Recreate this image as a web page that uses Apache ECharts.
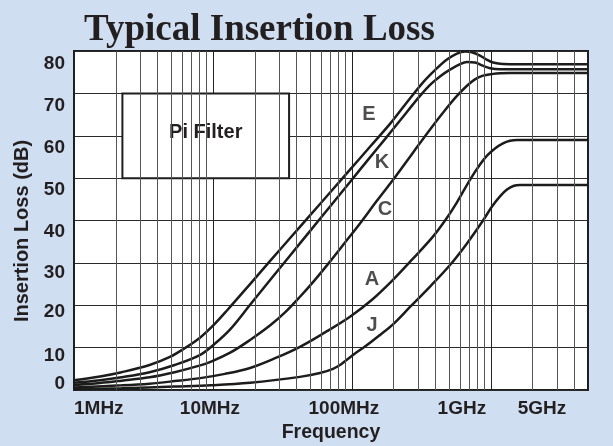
<!DOCTYPE html>
<html><head><meta charset="utf-8">
<script src="https://cdn.jsdelivr.net/npm/echarts@6/dist/echarts.min.js"></script>
<style>html,body{margin:0;padding:0;background:#cfdef0}#c{width:613px;height:446px}</style>
</head><body><div id="c"></div><script>
// ---- data (frequency in MHz, insertion loss in dB) ----
const freqE = [1.0,1.54,2.2,3.5,4.9,6.3,8.1,10.3,12.8,18.5,25.7,35.8,49.9,69.6,96.9,134.9,187.9,241,325,396,483,570,651,731,835,938,1036,1222,1620,5000];
const lossE = [2.3,3.2,4.2,5.9,7.8,9.9,12.4,15.6,19.0,25.0,30.4,35.8,41.2,46.6,52.0,57.4,62.8,67.3,72.6,75.5,78.0,79.4,79.9,79.7,78.9,77.9,77.3,76.95,76.9,76.9];
const freqK = [1.0,1.54,2.2,3.5,5.3,8.1,10.3,13.3,18.5,25.7,35.8,49.9,69.6,96.9,134.9,173,222,275,309,365,430,508,600,673,769,863,986,1163,1620,5000];
const lossK = [1.7,2.3,3.0,4.2,5.9,8.3,10.9,14.3,20.1,25.9,31.7,37.5,43.3,49.1,54.9,59.2,63.6,67.4,69.4,72.0,74.0,75.6,76.9,77.4,77.3,76.6,75.95,75.7,75.7,75.7];
const freqC = [1.0,1.54,2.2,3.5,5.3,8.1,9.7,13.3,18.5,25.7,33.0,42.3,54.2,69.5,89.2,114.3,154.1,204.2,275,365,483,570,673,768,878,1036,1163,1373,2000,5000];
const lossC = [1.2,1.65,2.2,3.0,4.2,5.8,6.7,8.8,11.8,15.2,18.3,22.0,26.0,30.3,34.8,39.3,45.0,50.2,56.0,61.5,66.6,69.4,71.8,73.3,74.2,74.6,74.75,74.8,74.8,74.8];
const freqA = [1.0,2.2,3.5,5.3,8.1,12.2,18.5,28.0,42.3,64.0,96.9,139.5,197.5,275,383,475,570,707,835,938,1071,1222,1373,1542,2200,5000];
const lossA = [0.6,1.1,1.5,2.1,2.8,3.8,5.2,7.5,10.2,13.6,17.3,21.3,26.0,31.0,36.2,40.3,44.3,49.6,53.2,55.3,57.0,58.2,58.8,59.0,59.0,59.0];
const freqJ = [1.0,2.2,5.3,9.7,18.5,42.3,58.9,73.1,82.1,89.2,105.2,128.4,159.3,197.5,262,365,508,673,878,1019,1163,1306,1467,1620,2400,5000];
const lossJ = [0.2,0.4,0.8,1.1,1.7,3.1,4.0,5.0,5.9,6.8,8.6,10.6,13.0,15.5,19.6,24.4,29.5,34.6,40.0,43.3,45.7,47.3,48.2,48.4,48.4,48.4];

const xTickValues = [1, 10, 100, 1000, 5000];
const xTickLabels = ['1MHz', '10MHz', '100MHz', '1GHz', '5GHz'];
const yTickValues = [0, 10, 20, 30, 40, 50, 60, 70, 80];
const minorGridFreqs = [2,3,4,5,6,7,8,9,20,30,40,50,60,70,80,90,200,300,400,500,600,700,800,900,2000,3000,4000];

const curveNames = ['E', 'K', 'C', 'A', 'J'];
const labelFreqs = [132.7, 164.7, 173.0, 139.5, 139.5];
const labelLoss = [65.1, 53.8, 42.7, 26.0, 15.3];

// ---- annotation / style config ----
const piBox = { f: [2.23, 35.3], db: [50, 70], text: 'Pi Filter' };
const ink = '#231f20';
const sans = 'Liberation Sans';
const xShift = [0, 3, 8, 29, 46];           // px the label text sits left of its tick
const yShift = { 0: -6, 10: 8, 20: 7, 30: 10, 40: 11.5, 50: 11.5, 60: 12, 70: 12.5, 80: 12.5 };

const base = { fontFamily: sans, fontWeight: 'bold', fontSize: 19, color: ink };
const xRich = {};
xTickLabels.forEach((t, i) => { xRich['x' + i] = Object.assign({}, base, { padding: [0, 2 * xShift[i], 0, 0] }); });
const yRich = {};
yTickValues.forEach(v => {
  const s = yShift[v];
  yRich['y' + v] = Object.assign({}, base, { padding: s >= 0 ? [2 * s, 0, 0, 0] : [0, 0, -2 * s, 0] });
});

const curves = [[freqE, lossE], [freqK, lossK], [freqC, lossC], [freqA, lossA], [freqJ, lossJ]];

const chart = echarts.init(document.getElementById('c'), null, { renderer: 'canvas' });
chart.setOption({
  animation: false,
  backgroundColor: '#cfdef0',
  title: {
    text: 'Typical Insertion Loss', left: 79, top: 7,
    textStyle: { fontFamily: 'Liberation Serif', fontWeight: 'bold', fontSize: 37, color: ink }
  },
  grid: { left: 74, top: 51, width: 514, height: 339, show: true, backgroundColor: '#ffffff',
          borderColor: '#1e1e1e', borderWidth: 2, containLabel: false, outerBoundsMode: 'none' },
  xAxis: {
    type: 'log', logBase: 10, min: 1, max: 5000,
    axisLine: { show: false }, axisTick: { show: false },
    splitLine: { show: true, lineStyle: { color: '#222', width: 1 } },
    axisLabel: {
      customValues: xTickValues, margin: 9, showMinLabel: true, showMaxLabel: true,
      alignMinLabel: 'left', hideOverlap: false,
      formatter: function (v) {
        let best = 0, bd = 1e9;
        xTickValues.forEach((t, i) => { const d = Math.abs(Math.log10(v) - Math.log10(t)); if (d < bd) { bd = d; best = i; } });
        return '{x' + best + '|' + xTickLabels[best] + '}';
      },
      rich: xRich
    },
    name: 'Frequency', nameLocation: 'middle', nameGap: 31,
    nameTextStyle: Object.assign({}, base, { fontSize: 19.5 })
  },
  yAxis: {
    type: 'value', min: 0, max: 80, interval: 10,
    axisLine: { show: false }, axisTick: { show: false },
    splitLine: { show: true, lineStyle: { color: '#2a2a2a', width: 1 } },
    axisLabel: {
      margin: 9, showMinLabel: true, showMaxLabel: true,
      formatter: function (v) { return '{y' + v + '|' + v + '}'; },
      rich: yRich
    },
    name: 'Insertion Loss (dB)', nameLocation: 'middle', nameGap: 37, nameRotate: 90,
    nameTextStyle: Object.assign({}, base, { fontSize: 20, padding: [0, 21, 0, 0] })
  },
  series: [
    {
      type: 'line', data: [], silent: true, z: 1,
      markLine: {
        silent: true, symbol: ['none', 'none'], label: { show: false }, animation: false,
        lineStyle: { color: '#555', width: 1, type: 'solid' },
        data: minorGridFreqs.map(f => ({ xAxis: f }))
      }
    },
    {
      type: 'line', data: [], silent: true, z: 3,
      markArea: {
        silent: true,
        itemStyle: { color: '#ffffff', borderColor: '#1e1e1e', borderWidth: 2 },
        label: Object.assign({ show: true, position: 'inside' }, base, { fontSize: 20, offset: [0, -3] }),
        data: [[{ name: piBox.text, coord: [piBox.f[0], piBox.db[1]] }, { coord: [piBox.f[1], piBox.db[0]] }]]
      }
    }
  ].concat(curves.map((c, k) => ({
    name: curveNames[k], type: 'line', z: 4, silent: true,
    data: c[0].map((f, i) => [f, c[1][i]]),
    showSymbol: false, smooth: 0.35,
    lineStyle: { color: '#1c1c1c', width: 2.5 }
  }))).concat([{
    type: 'scatter', z: 5, silent: true,
    symbol: 'circle', symbolSize: 1, itemStyle: { color: 'rgba(0,0,0,0)' },
    data: labelFreqs.map((f, i) => ({ value: [f, labelLoss[i]], name: curveNames[i] })),
    label: Object.assign({ show: true, position: 'inside', formatter: '{b}' }, base, { fontSize: 20 })
  }])
});
</script></body></html>
